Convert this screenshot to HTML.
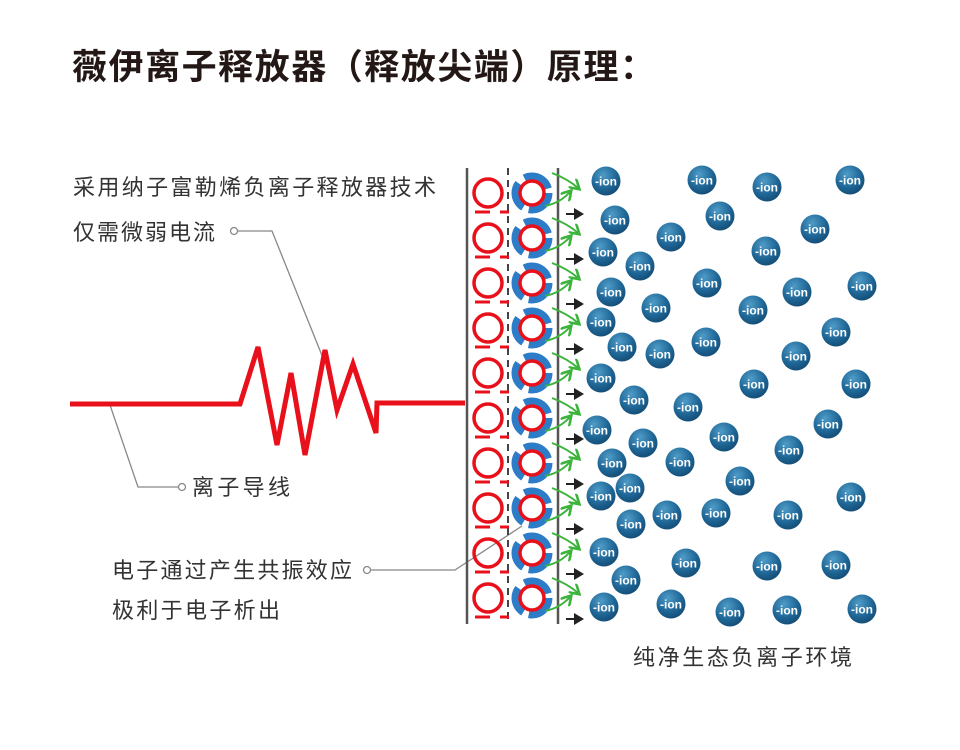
<!DOCTYPE html>
<html><head><meta charset="utf-8"><style>
html,body{margin:0;padding:0;background:#fff;}
svg{display:block;}
text{font-family:"Liberation Sans","Noto Sans CJK SC",sans-serif;}
</style></head><body>
<svg width="960" height="750" viewBox="0 0 960 750" xmlns="http://www.w3.org/2000/svg">
<defs>
<radialGradient id="ig" cx="0.4" cy="0.3" r="0.75">
<stop offset="0" stop-color="#4f9cc8"/><stop offset="0.6" stop-color="#1f6797"/><stop offset="1" stop-color="#134a72"/>
</radialGradient>
<marker id="ga" markerWidth="6" markerHeight="6" refX="4" refY="3" orient="auto"><path d="M0,0 L5,3 L0,6" fill="none" stroke="#3cb43c" stroke-width="1.3"/></marker>
<marker id="ba" markerWidth="6" markerHeight="6" refX="4" refY="3" orient="auto"><path d="M0,0 L5,3 L0,6 z" fill="#222"/></marker>
<g id="row">
<circle cx="488" cy="0" r="14" fill="none" stroke="#e8101a" stroke-width="3.5"/>
<line x1="475" y1="19" x2="490" y2="19" stroke="#e8101a" stroke-width="3"/>
<line x1="500" y1="19" x2="509" y2="19" stroke="#e8101a" stroke-width="3"/>
<circle cx="532" cy="0" r="17" fill="none" stroke="#2d7cc8" stroke-width="7" stroke-dasharray="30 6 28 8 30 5"/>
<circle cx="532" cy="0" r="12" fill="#fff" stroke="#e8101a" stroke-width="3.5"/>
<path d="M552,-20 Q568,-14 578,-5" fill="none" stroke="#3cb43c" stroke-width="2" marker-end="url(#ga)"/>
<path d="M545,13 Q560,10 570,-1" fill="none" stroke="#3cb43c" stroke-width="2" marker-end="url(#ga)"/>
<line x1="566" y1="21" x2="582" y2="21" stroke="#222" stroke-width="2" marker-end="url(#ba)"/>
</g>
<g id="ion"><circle r="14.5" fill="url(#ig)"/><text x="0" y="4.5" font-size="12" font-weight="bold" fill="#fff" text-anchor="middle">-ion</text></g>
</defs>

<text x="72" y="79" font-size="35" font-weight="bold" fill="#231815" textLength="583" lengthAdjust="spacing">薇伊离子释放器（释放尖端）原理：</text>

<text x="73" y="195" font-size="22" fill="#333" textLength="363" lengthAdjust="spacing">采用纳子富勒烯负离子释放器技术</text>
<text x="73" y="240" font-size="22" fill="#333" textLength="142" lengthAdjust="spacing">仅需微弱电流</text>
<text x="192" y="495" font-size="22" fill="#333" textLength="98" lengthAdjust="spacing">离子导线</text>
<text x="112" y="578" font-size="22" fill="#333" textLength="240" lengthAdjust="spacing">电子通过产生共振效应</text>
<text x="112" y="618" font-size="22" fill="#333" textLength="168" lengthAdjust="spacing">极利于电子析出</text>
<text x="633" y="665" font-size="22" fill="#333" textLength="219" lengthAdjust="spacing">纯净生态负离子环境</text>

<g fill="none" stroke="#888" stroke-width="1.3">
<circle cx="234" cy="231" r="3.5" fill="#fff"/>
<polyline points="238,231 272,231 323,358"/>
<circle cx="182" cy="487" r="3.5" fill="#fff"/>
<polyline points="178,487 138,487 110,405"/>
<circle cx="367" cy="570" r="3.5" fill="#fff"/>
<polyline points="371,570 455,570 522,526"/>
</g>

<polyline points="70,404 240,404 258,347 277,445 291,373 305,455 325,350 337,410 353,364 376,433 377,403 465,403" fill="none" stroke="#e8101a" stroke-width="5" stroke-linejoin="miter"/>

<line x1="467" y1="168" x2="467" y2="624" stroke="#555" stroke-width="2.5"/>
<line x1="508" y1="168" x2="508" y2="624" stroke="#444" stroke-width="2" stroke-dasharray="7 5"/>
<line x1="558" y1="168" x2="558" y2="624" stroke="#555" stroke-width="2.5"/>
<use href="#row" y="193"/><use href="#row" y="238"/><use href="#row" y="283"/><use href="#row" y="328"/><use href="#row" y="373"/>
<use href="#row" y="418"/><use href="#row" y="463"/><use href="#row" y="508"/><use href="#row" y="553"/><use href="#row" y="598"/>

<use href="#ion" x="606" y="181"/><use href="#ion" x="702" y="180"/><use href="#ion" x="767" y="187"/><use href="#ion" x="850" y="180"/>
<use href="#ion" x="615" y="220"/><use href="#ion" x="720" y="216"/><use href="#ion" x="815" y="229"/><use href="#ion" x="671" y="237"/>
<use href="#ion" x="603" y="252"/><use href="#ion" x="766" y="251"/><use href="#ion" x="640" y="266"/><use href="#ion" x="707" y="283"/>
<use href="#ion" x="862" y="286"/><use href="#ion" x="797" y="292"/><use href="#ion" x="611" y="292"/><use href="#ion" x="656" y="308"/>
<use href="#ion" x="753" y="310"/><use href="#ion" x="601" y="322"/><use href="#ion" x="836" y="332"/><use href="#ion" x="622" y="347"/>
<use href="#ion" x="660" y="354"/><use href="#ion" x="706" y="342"/><use href="#ion" x="796" y="356"/><use href="#ion" x="601" y="378"/>
<use href="#ion" x="754" y="384"/><use href="#ion" x="856" y="384"/><use href="#ion" x="634" y="400"/><use href="#ion" x="688" y="407"/>
<use href="#ion" x="828" y="424"/><use href="#ion" x="597" y="430"/><use href="#ion" x="724" y="437"/><use href="#ion" x="643" y="443"/>
<use href="#ion" x="789" y="450"/><use href="#ion" x="680" y="462"/><use href="#ion" x="612" y="463"/><use href="#ion" x="740" y="481"/>
<use href="#ion" x="630" y="488"/><use href="#ion" x="601" y="496"/><use href="#ion" x="851" y="497"/><use href="#ion" x="667" y="515"/>
<use href="#ion" x="716" y="513"/><use href="#ion" x="788" y="515"/><use href="#ion" x="631" y="524"/><use href="#ion" x="604" y="552"/>
<use href="#ion" x="686" y="563"/><use href="#ion" x="767" y="566"/><use href="#ion" x="836" y="565"/><use href="#ion" x="626" y="580"/>
<use href="#ion" x="604" y="607"/><use href="#ion" x="671" y="604"/><use href="#ion" x="730" y="612"/><use href="#ion" x="787" y="610"/>
<use href="#ion" x="862" y="609"/>
</svg>
</body></html>
